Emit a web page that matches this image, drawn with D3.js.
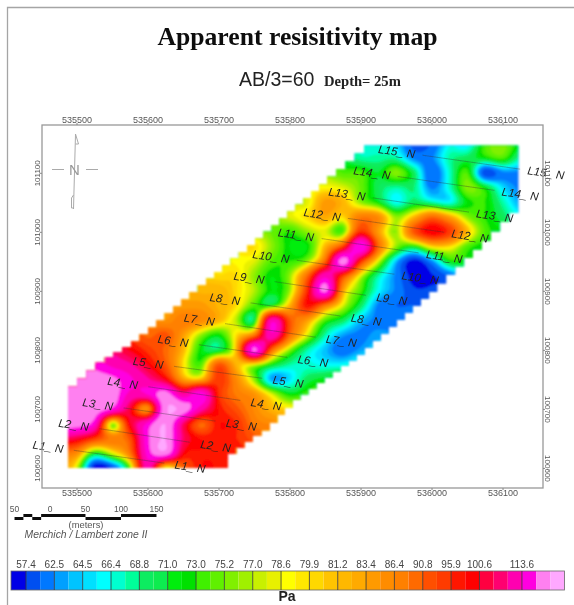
<!DOCTYPE html>
<html>
<head>
<meta charset="utf-8">
<script src="https://cdn.jsdelivr.net/npm/d3@7"></script>
<style>
  html, body { margin: 0; padding: 0; background: #fff; }
  svg { display: block; }
</style>
</head>
<body>
<div id="chart"></div>
<script>
// readings off the map, 25 m grid. rows go south to north, each row starts at rowStartCol
const gridEastStart = 535475;
const gridNorthStart = 100600;
const gridStep = 25;
const gridCols = 27;
const rowStartCol = [0, 0, 0, 0, 0, 0, 1, 3, 4, 5, 6, 7, 8, 9, 10, 11, 12, 13, 14, 15, 16, 17, 18];
const rhoRows = [
  [84, 78, 55, 58, 74, 110, 78, 90, 98, 98, 98],
  [88, 86, 72, 78, 88, 116, 125, 100, 98, 98, 98, 95],
  [105, 102, 95, 88, 92, 118, 128, 105, 98, 98, 96, 92, 90],
  [125, 124, 116, 76, 100, 115, 128, 105, 90, 98, 96, 88, 86, 84],
  [125, 125, 125, 118, 102, 85, 126, 125, 110, 98, 92, 86, 82, 80, 80],
  [125, 125, 126, 125, 112, 114, 124, 108, 118, 96, 88, 85, 78, 72, 74, 76],
  [124, 124, 122, 115, 108, 100, 84, 82, 95, 86, 76, 63, 65, 70, 72, 74],
  [112, 108, 100, 92, 80, 74, 92, 82, 78, 72, 68, 67, 66, 66, 68],
  [100, 95, 90, 82, 72, 70, 82, 122, 90, 76, 68, 64, 61, 63, 65],
  [90, 92, 84, 76, 72, 80, 88, 112, 90, 78, 68, 63, 62, 63],
  [85, 88, 86, 82, 77, 70, 112, 92, 84, 74, 70, 64, 62, 62],
  [84, 84, 82, 80, 74, 72, 82, 98, 88, 78, 70, 62, 60, 60],
  [82, 82, 80, 77, 72, 76, 96, 122, 84, 74, 66, 62, 58, 58],
  [80, 80, 76, 72, 76, 90, 112, 94, 78, 68, 62, 56, 57, 60],
  [79, 78, 74, 73, 76, 90, 124, 96, 78, 64, 56, 62, 72, 72],
  [80, 76, 72, 72, 82, 94, 120, 90, 76, 72, 80, 80, 74, 72],
  [75, 73, 76, 78, 74, 96, 84, 76, 92, 100, 95, 82, 74],
  [78, 80, 83, 80, 88, 86, 76, 82, 90, 84, 76, 73, 70],
  [78, 84, 82, 76, 72, 66, 70, 68, 66, 72, 73, 68, 63],
  [79, 78, 75, 70, 68, 69, 62, 67, 76, 72, 65, 62],
  [74, 74, 71, 76, 70, 60, 67, 74, 58, 62, 62],
  [68, 68, 68, 62, 62, 68, 70, 72, 74, 68],
  [67, 65, 59, 60, 66, 65, 74, 76, 72]
];

// outline of the gridded area (easting, northing)
const outlineE = [535488, 535540, 535589, 535671, 535775, 535853, 535918, 536122, 536122, 536071, 536008, 535951, 535906, 535815, 535772, 535713, 535713, 535488];
const outlineN = [100724, 100778, 100814, 100898, 101000, 101080, 101146, 101146, 101032, 100970, 100898, 100839, 100792, 100715, 100664, 100614, 100600, 100600];

// survey lines: label anchors at both ends
const lineNames = ["L1_ N", "L2_ N", "L3_ N", "L4_ N", "L5_ N", "L6_ N", "L7_ N", "L8_ N", "L9_ N", "L10_ N", "L11_ N", "L12_ N", "L13_ N", "L14_ N", "L15_ N"];
const lineStartE = [535460, 535496, 535530, 535565, 535601, 535636, 535673, 535709, 535743, 535774, 535809, 535846, 535881, 535916, 535951];
const lineStartN = [100636, 100673, 100708, 100744, 100778, 100815, 100851, 100886, 100922, 100958, 100995, 101029, 101064, 101100, 101136];
const lineEndE = [535660, 535696, 535732, 535767, 535798, 535833, 535873, 535908, 535944, 535984, 536018, 536054, 536089, 536125, 536161];
const lineEndN = [100602, 100637, 100673, 100708, 100746, 100781, 100815, 100851, 100886, 100922, 100958, 100993, 101027, 101064, 101100];

// colour classes of the legend
const classBreaks = [57.4, 60, 62.5, 63.5, 64.5, 65.4, 66.4, 67.6, 68.8, 69.9, 71, 72, 73, 74.1, 75.2, 76.1, 77, 77.8, 78.6, 79.2, 79.9, 80.5, 81.2, 82.3, 83.4, 84.9, 86.4, 88.6, 90.8, 93.3, 95.9, 98.2, 100.6, 104, 107, 113.6, 120, 128];
const classColors = ["#0000e6", "#0050f0", "#0078ff", "#00a0ff", "#00c4ff", "#00e0ff", "#00ffff", "#00ffd0", "#00ff9a", "#10ec60", "#10ec50", "#00ee10", "#00e000", "#40f000", "#60f000", "#80f000", "#a0f000", "#c8f000", "#e8f000", "#ffff00", "#ffe800", "#ffd800", "#ffc400", "#ffb800", "#ffaa00", "#ff9a00", "#ff8c00", "#ff8000", "#ff6a00", "#ff5000", "#ff3a00", "#ff1400", "#ff0000", "#ff0040", "#ff0070", "#ff00b0", "#ff00e0", "#ff80f0", "#ffa8ff"];
const legendLabelValues = [57.4, 62.5, 64.5, 66.4, 68.8, 71.0, 73.0, 75.2, 77.0, 78.6, 79.9, 81.2, 83.4, 86.4, 90.8, 95.9, 100.6, 113.6];

const eastTicks = [535500, 535600, 535700, 535800, 535900, 536000, 536100];
const northTicks = [100600, 100700, 100800, 100900, 101000, 101100];
const scaleBarTicks = [-50, 0, 50, 100, 150];

const width = 574, height = 605;
const frame = { left: 42, right: 543, top: 125, bottom: 488 };

const svg = d3.select("#chart").append("svg")
  .attr("width", width)
  .attr("height", height)
  .attr("font-family", "'Liberation Sans', Arial, sans-serif");

const defs = svg.append("defs");
defs.append("filter").attr("id", "soft").attr("x", "-5%").attr("y", "-5%").attr("width", "110%").attr("height", "110%")
  .append("feGaussianBlur").attr("stdDeviation", 1.1);
defs.append("filter").attr("id", "softText").attr("x", "-5%").attr("y", "-5%").attr("width", "110%").attr("height", "110%")
  .append("feGaussianBlur").attr("stdDeviation", 0.45);

const x = d3.scaleLinear().domain([535451.4, 536157]).range([frame.left, frame.right]);
const y = d3.scaleLinear().domain([100566, 101181]).range([frame.bottom, frame.top]);

// page edge lines
svg.append("path")
  .attr("d", d3.line()([[7.5, height], [7.5, 7.5], [width, 7.5]]))
  .attr("fill", "none")
  .attr("stroke", "#a5a5a5")
  .attr("stroke-width", 1.3);

// fill the missing cells from their neighbours so the edges grid cleanly
function buildGrid() {
  let grid = rhoRows.map((row, j) => {
    const full = new Array(gridCols).fill(null);
    row.forEach((v, i) => { full[rowStartCol[j] + i] = v; });
    return full;
  });
  for (let pass = 0; pass < gridCols; pass++) {
    grid = grid.map((row, j) => row.map((v, i) => {
      if (v !== null) return v;
      const near = [];
      if (i > 0 && row[i - 1] !== null) near.push(row[i - 1]);
      if (i < gridCols - 1 && row[i + 1] !== null) near.push(row[i + 1]);
      if (j > 0 && grid[j - 1][i] !== null) near.push(grid[j - 1][i]);
      if (j < grid.length - 1 && grid[j + 1][i] !== null) near.push(grid[j + 1][i]);
      return near.length ? d3.mean(near) : null;
    }));
  }
  return grid;
}

function catmull(p0, p1, p2, p3, t) {
  return 0.5 * (2 * p1 + (p2 - p0) * t + (2 * p0 - 5 * p1 + 4 * p2 - p3) * t * t + (3 * p1 - p0 - 3 * p2 + p3) * t * t * t);
}

const grid = buildGrid();
const upsample = 5;
const nRows = grid.length;
const fineW = (gridCols - 1) * upsample + 1;
const fineH = (nRows - 1) * upsample + 1;
const fine = new Array(fineW * fineH);
const clampI = (v, n) => Math.max(0, Math.min(n - 1, v));

for (let fy = 0; fy < fineH; fy++) {
  const gy = fy / upsample;
  const j = Math.min(Math.floor(gy), nRows - 2);
  const ty = gy - j;
  for (let fx = 0; fx < fineW; fx++) {
    const gx = fx / upsample;
    const i = Math.min(Math.floor(gx), gridCols - 2);
    const tx = gx - i;
    const column = [-1, 0, 1, 2].map(dj => {
      const row = grid[clampI(j + dj, nRows)];
      return catmull(row[clampI(i - 1, gridCols)], row[i], row[i + 1], row[clampI(i + 2, gridCols)], tx);
    });
    fine[fy * fineW + fx] = catmull(column[0], column[1], column[2], column[3], ty);
  }
}

// stepped outline like the blanked grid edge
function stairOutline() {
  const pts = [];
  const stepPx = 8.5;
  outlineE.forEach((e, k) => {
    const next = (k + 1) % outlineE.length;
    const ax = x(e), ay = y(outlineN[k]);
    const bx = x(outlineE[next]), by = y(outlineN[next]);
    if (Math.abs(ax - bx) < 0.01 || Math.abs(ay - by) < 0.01) {
      pts.push([ax, ay]);
      return;
    }
    const n = Math.max(1, Math.round(Math.abs(bx - ax) / stepPx));
    for (let s = 0; s < n; s++) {
      const x0 = ax + (bx - ax) * s / n, y0 = ay + (by - ay) * s / n;
      const x1 = ax + (bx - ax) * (s + 1) / n, y1 = ay + (by - ay) * (s + 1) / n;
      pts.push([x0, y0]);
      // upper left edge steps up first, lower right edge steps across first
      if (bx > ax) pts.push([x0, y1]);
      else pts.push([x1, y0]);
    }
  });
  return pts;
}

defs.append("clipPath").attr("id", "mapClip")
  .append("path")
  .attr("d", d3.line()(stairOutline()) + "Z");

const toPage = d3.geoTransform({
  point(gx, gy) {
    const e = gridEastStart + gridStep * (gx - 0.5) / upsample;
    const n = gridNorthStart + gridStep * (gy - 0.5) / upsample;
    this.stream.point(x(e), y(n));
  }
});
const contourPath = d3.geoPath(toPage);
const contours = d3.contours().size([fineW, fineH]).smooth(true);

const mapG = svg.append("g").attr("filter", "url(#soft)")
  .append("g").attr("clip-path", "url(#mapClip)");

mapG.selectAll("path.band")
  .data([-1000].concat(classBreaks))
  .join("path")
  .attr("class", "band")
  .attr("d", d => contourPath(contours.contour(fine, d)))
  .attr("fill", (d, i) => classColors[i]);

const textG = svg.append("g").attr("filter", "url(#softText)");

// survey lines and their labels
const lineIdx = d3.range(lineNames.length);
const lineAngle = 8.2;
const trim = 26;

textG.selectAll("line.survey")
  .data(lineIdx)
  .join("line")
  .attr("class", "survey")
  .each(function (i) {
    const ax = x(lineStartE[i]), ay = y(lineStartN[i]);
    const bx = x(lineEndE[i]), by = y(lineEndN[i]);
    const len = Math.hypot(bx - ax, by - ay);
    const ux = (bx - ax) / len, uy = (by - ay) / len;
    d3.select(this)
      .attr("x1", ax + ux * trim)
      .attr("y1", ay + uy * trim)
      .attr("x2", bx - ux * trim)
      .attr("y2", by - uy * trim);
  })
  .attr("stroke", "#333")
  .attr("stroke-opacity", 0.5)
  .attr("stroke-width", 0.7);

[[lineStartE, lineStartN], [lineEndE, lineEndN]].forEach(([es, ns]) => {
  textG.append("g").selectAll("text")
    .data(lineIdx)
    .join("text")
    .attr("transform", i => `translate(${x(es[i])},${y(ns[i])}) rotate(${lineAngle})`)
    .attr("text-anchor", "middle")
    .attr("dy", "0.35em")
    .attr("font-size", 11.5)
    .attr("font-style", "italic")
    .attr("fill", "#222")
    .text(i => lineNames[i]);
});

// frame and axes
const axisStyle = (g, size) => {
  g.select(".domain").remove();
  g.selectAll("line").attr("stroke", "#888");
  g.selectAll("text").attr("fill", "#555").attr("font-size", size).attr("font-family", "'Liberation Sans', sans-serif");
};
const plain = d3.format("d");

textG.append("rect")
  .attr("x", frame.left).attr("y", frame.top)
  .attr("width", frame.right - frame.left).attr("height", frame.bottom - frame.top)
  .attr("fill", "none")
  .attr("stroke", "#999")
  .attr("stroke-width", 1.3);

textG.append("g").attr("transform", `translate(0,${frame.top})`)
  .call(d3.axisTop(x).tickValues(eastTicks).tickFormat(plain).tickSize(2).tickPadding(0))
  .call(axisStyle, 9);
textG.append("g").attr("transform", `translate(0,${frame.bottom})`)
  .call(d3.axisBottom(x).tickValues(eastTicks).tickFormat(plain).tickSize(2).tickPadding(0))
  .call(axisStyle, 9);
textG.append("g").attr("transform", `translate(${frame.left},0)`)
  .call(d3.axisLeft(y).tickValues(northTicks).tickFormat(plain).tickSize(2))
  .call(axisStyle, 8)
  .selectAll("text")
  .attr("transform", "rotate(-90,-2,0)")
  .attr("x", -2).attr("y", 0).attr("dy", "0em").attr("text-anchor", "middle");
textG.append("g").attr("transform", `translate(${frame.right},0)`)
  .call(d3.axisRight(y).tickValues(northTicks).tickFormat(plain).tickSize(2))
  .call(axisStyle, 8)
  .selectAll("text")
  .attr("transform", "rotate(90,2,0)")
  .attr("x", 2).attr("y", 0).attr("dy", "0em").attr("text-anchor", "middle");

// north arrow
const arrowX = 74.5;
const arrow = textG.append("g").attr("stroke", "#aaa").attr("fill", "none").attr("stroke-width", 1);
arrow.append("line").attr("x1", arrowX + 1).attr("y1", 134).attr("x2", arrowX - 1).attr("y2", 209);
arrow.append("path").attr("d", d3.line()([[arrowX + 1, 134], [arrowX + 4, 144], [arrowX + 1, 144]]));
arrow.append("path").attr("d", d3.line()([[arrowX - 1, 195], [arrowX - 3, 198], [arrowX - 3, 208], [arrowX - 1, 208]]));
arrow.append("line").attr("x1", 52).attr("y1", 169.5).attr("x2", 64).attr("y2", 169.5);
arrow.append("line").attr("x1", 86).attr("y1", 169.5).attr("x2", 98).attr("y2", 169.5);
textG.append("text").attr("x", arrowX).attr("y", 175).attr("text-anchor", "middle")
  .attr("font-size", 15).attr("fill", "#999").text("N");

// titles
textG.append("text").attr("x", 297.5).attr("y", 45).attr("text-anchor", "middle")
  .attr("font-family", "'Liberation Serif', serif").attr("font-weight", "bold").attr("font-size", 25.7)
  .attr("fill", "#111").text("Apparent resisitivity map");
textG.append("text").attr("x", 239).attr("y", 86)
  .attr("font-size", 19.5).attr("fill", "#222").text("AB/3=60");
textG.append("text").attr("x", 324).attr("y", 86)
  .attr("font-family", "'Liberation Serif', serif").attr("font-weight", "bold").attr("font-size", 14.6)
  .attr("fill", "#222").text("Depth= 25m");

// scale bar, same metres as the map
const scaleBar = d3.scaleLinear().domain([0, 150]).range([50, 156.5]);
textG.append("g").selectAll("text")
  .data(scaleBarTicks)
  .join("text")
  .attr("x", d => scaleBar(d))
  .attr("y", 512)
  .attr("text-anchor", "middle")
  .attr("font-size", 8.5)
  .attr("fill", "#555")
  .text(d => Math.abs(d));
const barY = 514, barH = 3;
const barSegments = [[-50, -37.5, 1], [-37.5, -25, 0], [-25, -12.5, 1], [-12.5, 0, 0], [0, 50, 0], [50, 100, 1], [100, 150, 0]];
textG.append("g").selectAll("rect")
  .data(barSegments)
  .join("rect")
  .attr("x", d => scaleBar(d[0]))
  .attr("y", d => barY + d[2] * barH)
  .attr("width", d => scaleBar(d[1]) - scaleBar(d[0]))
  .attr("height", barH)
  .attr("fill", "#111");
textG.append("text").attr("x", 86).attr("y", 528).attr("text-anchor", "middle")
  .attr("font-size", 9.4).attr("fill", "#555").text("(meters)");
textG.append("text").attr("x", 86).attr("y", 537.7).attr("text-anchor", "middle")
  .attr("font-size", 10.4).attr("font-style", "italic").attr("fill", "#555").text("Merchich / Lambert zone II");

// legend bar, evenly spaced boxes
const legendLeft = 11, firstBreakX = 26, swatchW = 14.17;
const legendX = i => firstBreakX + swatchW * i;
const legendY = 571, legendH = 19;
const legendG = svg.append("g").attr("filter", "url(#softText)");

legendG.selectAll("rect.swatch")
  .data(classColors)
  .join("rect")
  .attr("class", "swatch")
  .attr("x", (d, i) => i === 0 ? legendLeft : legendX(i - 1))
  .attr("y", legendY)
  .attr("width", (d, i) => i === 0 ? firstBreakX - legendLeft : swatchW)
  .attr("height", legendH)
  .attr("fill", d => d);
legendG.append("rect")
  .attr("x", legendLeft).attr("y", legendY)
  .attr("width", legendX(classColors.length - 1) - legendLeft).attr("height", legendH)
  .attr("fill", "none").attr("stroke", "#666").attr("stroke-width", 0.8);
legendG.selectAll("line.tick")
  .data(legendLabelValues)
  .join("line")
  .attr("class", "tick")
  .attr("x1", d => legendX(classBreaks.indexOf(d)))
  .attr("x2", d => legendX(classBreaks.indexOf(d)))
  .attr("y1", legendY).attr("y2", legendY + legendH)
  .attr("stroke", "#333").attr("stroke-width", 0.8);
legendG.selectAll("text.value")
  .data(legendLabelValues)
  .join("text")
  .attr("class", "value")
  .attr("x", d => legendX(classBreaks.indexOf(d)))
  .attr("y", 568)
  .attr("text-anchor", "middle")
  .attr("font-size", 10)
  .attr("fill", "#444")
  .text(d => d.toFixed(1));
legendG.append("text").attr("x", 287).attr("y", 601).attr("text-anchor", "middle")
  .attr("font-size", 14).attr("font-weight", "bold").attr("fill", "#222").text("Pa");
</script>
</body>
</html>
